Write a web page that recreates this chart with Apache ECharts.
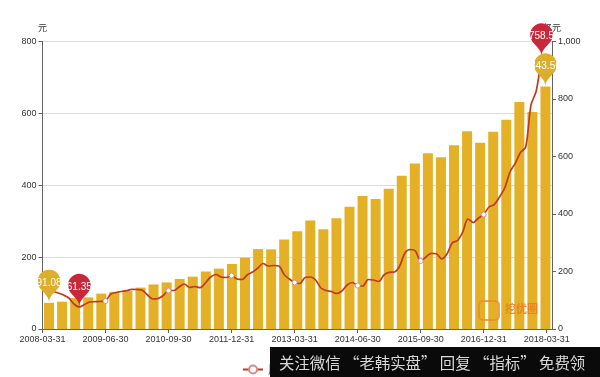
<!DOCTYPE html>
<html>
<head>
<meta charset="utf-8">
<style>
html, body { margin: 0; padding: 0; background: #fff; }
#chart { width: 600px; height: 377px; }
</style>
<script src="https://cdn.jsdelivr.net/npm/echarts@6/dist/echarts.min.js"></script>
</head>
<body>
<div id="chart"></div>
<script>
const tickLabels = ['2008-03-31', '2009-06-30', '2010-09-30', '2011-12-31', '2013-03-31', '2014-06-30', '2015-09-30', '2016-12-31', '2018-03-31'];

const barQuarters = [
    '2008-03-31', '2008-06-30', '2008-09-30', '2008-12-31', '2009-03-31', '2009-06-30', '2009-09-30', '2009-12-31',
    '2010-03-31', '2010-06-30', '2010-09-30', '2010-12-31', '2011-03-31', '2011-06-30', '2011-09-30', '2011-12-31',
    '2012-03-31', '2012-06-30', '2012-09-30', '2012-12-31', '2013-03-31', '2013-06-30', '2013-09-30', '2013-12-31',
    '2014-03-31', '2014-06-30', '2014-09-30', '2014-12-31', '2015-03-31', '2015-06-30', '2015-09-30', '2015-12-31',
    '2016-03-31', '2016-06-30', '2016-09-30', '2016-12-31', '2017-06-30', '2017-12-31', '2018-03-31'
];

const barValues = [
    91.08, 95, 108, 110, 123, 129, 132, 144, 155, 162,
    174, 182, 200, 210, 226, 248, 278, 277, 311, 340,
    377, 347, 385, 425, 463, 452, 488, 533, 576, 611,
    597, 639, 688, 648, 686, 728, 790, 755, 843.56
];

const lineValues = [
    null, 105.7, 104.4, 100.2, 94.6, 86.3, 69.6, 61.35, 68.2, 75.1,
    76, 76.5, 77.9, 97.4, 101.6, 104.4, 106.6, 110.5, 109.9, 108,
    94.6, 83.5, 84.9, 93.2, 107.1, 107.1, 116.9, 125.2, 115.5, 118.3,
    114.9, 128, 144.7, 151.7, 144.7, 143.3, 148.9, 139.1, 137.7, 150.8,
    158.6, 169.7, 182.3, 175.3, 176.7, 175.3, 151.7, 139.1, 129.4, 126.6,
    143.3, 144.7, 136.3, 114.1, 107.1, 104.4, 98.8, 105.7, 122.4, 129.4,
    121, 119.7, 137.7, 136.3, 132.2, 150.3, 157.8, 158.6, 175.3, 211.5,
    221.2, 217, 189.2, 200.3, 210.6, 209.3, 194.8, 208.7, 239.3, 246.3,
    269.9, 306.1, 296.4, 308.9, 318.6, 339.5, 346.4, 367.3, 392.4, 436.9,
    461.1, 491.1, 506.4, 623.3, 662.3, 758.5
];

// the line axis has 12 steps between two printed dates
const stepsPerTick = 12;
const lineAxisSteps = 97;

let lineCategories = [];
for (let i = 0; i <= lineAxisSteps; i++) {
    lineCategories.push(i % stepsPerTick === 0 ? (tickLabels[i / stepsPerTick] || '') : '');
}

const labelFont = '"Liberation Sans", Arial, sans-serif';
const axisColor = '#5f6368';
const textColor = '#333';

var option = {
    animation: false,
    textStyle: { fontFamily: labelFont },
    grid: { left: 42.5, right: 48, top: 41.5, bottom: 48, containLabel: false },
    legend: {
        data: [{ name: '周收盘价' }],
        left: 237,
        top: 359,
        itemWidth: 20,
        itemHeight: 10,
        textStyle: { fontSize: 11, color: '#666', fontFamily: '"Noto Sans CJK SC"' }
    },
    xAxis: [{
        type: 'category',
        data: lineCategories,
        boundaryGap: false,
        axisLine: { lineStyle: { color: axisColor, width: 1 } },
        axisTick: { interval: stepsPerTick - 1, length: 4, lineStyle: { color: axisColor } },
        axisLabel: { interval: stepsPerTick - 1, fontSize: 9, color: textColor, margin: 6, hideOverlap: false }
    }, {
        type: 'category',
        data: barQuarters,
        show: false
    }],
    yAxis: [{
        type: 'value',
        name: '元',
        nameGap: 9,
        nameTextStyle: { fontSize: 9, color: textColor, fontFamily: '"Noto Sans CJK SC"' },
        min: 0,
        max: 800,
        interval: 200,
        axisLine: { show: true, lineStyle: { color: axisColor, width: 1 } },
        axisTick: { show: true, length: 4, lineStyle: { color: axisColor } },
        axisLabel: { fontSize: 9, color: textColor, margin: 6 },
        splitLine: { lineStyle: { color: '#dcdcdc', width: 1 } }
    }, {
        type: 'value',
        name: '亿元',
        nameGap: 9,
        nameTextStyle: { fontSize: 9, color: textColor, fontFamily: '"Noto Sans CJK SC"' },
        min: 0,
        max: 1000,
        interval: 200,
        position: 'right',
        axisLine: { show: true, lineStyle: { color: axisColor, width: 1 } },
        axisTick: { show: true, length: 4, lineStyle: { color: axisColor } },
        axisLabel: {
            fontSize: 9,
            color: textColor,
            margin: 6,
            formatter: function (v) { return v >= 1000 ? '1,000' : String(v); }
        },
        splitLine: { show: false }
    }],
    series: [{
        name: '营业收入',
        type: 'bar',
        xAxisIndex: 1,
        yAxisIndex: 1,
        data: barValues,
        barWidth: 10,
        z: 2,
        itemStyle: { color: '#e4b025' },
        markPoint: {
            z: 8,
            symbol: 'pin',
            symbolSize: 38,
            data: [{ type: 'max' }, { type: 'min' }],
            itemStyle: { color: '#dcae2b' },
            label: { color: '#fff', fontSize: 10 }
        }
    }, {
        name: '周收盘价',
        type: 'line',
        xAxisIndex: 0,
        yAxisIndex: 0,
        data: lineValues,
        smooth: 0.3,
        z: 3,
        showAllSymbol: true,
        symbol: function (value, params) {
            return params.dataIndex % stepsPerTick === 0 ? 'circle' : 'none';
        },
        symbolSize: 5,
        lineStyle: { color: '#bf3a1e', width: 1.7 },
        itemStyle: { color: '#fff', borderColor: '#d88a8a', borderWidth: 1 },
        markPoint: {
            z: 7,
            symbol: 'pin',
            symbolSize: 38,
            data: [{ type: 'max' }, { type: 'min' }],
            itemStyle: { color: '#c8283a' },
            label: { color: '#fff', fontSize: 10 }
        }
    }],
    graphic: [{
        type: 'rect',
        z: 50,
        shape: { x: 270, y: 347, width: 330, height: 30 },
        style: { fill: '#0a0a0a' }
    }, {
        type: 'text',
        z: 51,
        x: 279,
        y: 355,
        style: {
            text: '关注微信 “老韩实盘” 回复 “指标” 免费领',
            fill: '#d8d8d8',
            fontSize: 15.4,
            fontFamily: '"Noto Sans CJK SC"'
        }
    }, {
        type: 'rect',
        z: 20,
        shape: { x: 479, y: 301, width: 20, height: 19, r: 4 },
        style: { fill: 'none', stroke: '#ee8a2c', lineWidth: 2, opacity: 0.8 }
    }, {
        type: 'text',
        z: 20,
        x: 505,
        y: 303,
        style: {
            text: '挖优圈',
            fill: '#ee7a20',
            fontSize: 11,
            fontWeight: 'bold',
            fontFamily: '"Noto Sans CJK SC"',
            opacity: 0.85
        }
    }]
};

var barChart = echarts.init(document.getElementById('chart'));
barChart.setOption(option);
</script>
</body>
</html>
